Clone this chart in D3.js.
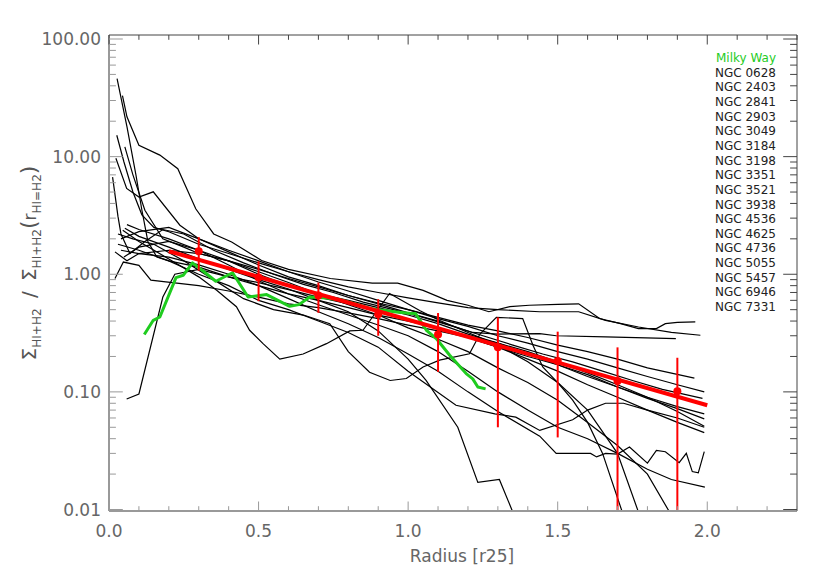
<!DOCTYPE html>
<html>
<head>
<meta charset="utf-8">
<script src="https://cdn.jsdelivr.net/npm/d3@7"></script>
<style>
  body { margin: 0; background: #fff; }
  svg { font-family: "DejaVu Sans", sans-serif; }
</style>
</head>
<body>
<script>
// galaxy names as in the legend
const galaxies = ["NGC 0628", "NGC 2403", "NGC 2841", "NGC 2903", "NGC 3049", "NGC 3184",
  "NGC 3198", "NGC 3351", "NGC 3521", "NGC 3938", "NGC 4536", "NGC 4625", "NGC 4736",
  "NGC 5055", "NGC 5457", "NGC 6946", "NGC 7331"];

// profiles: [radius r25, normalised surface density]
const ngc0628 = [[0.027,46],[0.06,18],[0.09,7],[0.11,3.5],[0.13,1.9],[0.16,1.4],[0.2,1.3],[0.3,1.15],[0.4,0.95],[0.5,0.8],[0.6,0.68],[0.7,0.6],[0.8,0.52],[0.9,0.45],[1.0,0.4],[1.1,0.35],[1.2,0.3],[1.3,0.26],[1.4,0.22],[1.5,0.18],[1.6,0.145],[1.7,0.115],[1.8,0.09],[1.9,0.068],[1.99,0.051]];
const ngc2403 = [[0.045,33],[0.06,21.8],[0.10,12.5],[0.17,10.3],[0.23,7.9],[0.29,3.6],[0.35,2.2],[0.41,1.88],[0.51,1.31],[0.6,1.1],[0.74,0.92],[0.88,0.84],[0.965,0.84],[1.05,0.73],[1.13,0.6],[1.2,0.545],[1.27,0.48],[1.34,0.53],[1.405,0.545],[1.5,0.555],[1.57,0.56],[1.64,0.42],[1.71,0.38],[1.77,0.345],[1.83,0.345],[1.86,0.38],[1.9,0.39],[1.96,0.393]];
const ngc2841 = [[0.026,15.2],[0.05,9],[0.08,5],[0.11,3.2],[0.15,2.5],[0.2,2.3],[0.3,1.8],[0.4,1.5],[0.5,1.25],[0.6,1.05],[0.7,0.9],[0.8,0.78],[0.9,0.7],[1.0,0.63],[1.1,0.57],[1.2,0.52],[1.3,0.5],[1.44,0.48],[1.57,0.48],[1.66,0.406],[1.77,0.356],[1.88,0.32],[1.977,0.303]];
const ngc2903 = [[0.023,9.7],[0.059,5.36],[0.10,4.54],[0.148,5.02],[0.237,2.61],[0.3,2.0],[0.4,1.55],[0.5,1.2],[0.6,0.95],[0.7,0.8],[0.8,0.66],[0.9,0.56],[1.0,0.47],[1.1,0.4],[1.215,0.32],[1.3,0.31],[1.44,0.313],[1.495,0.30],[1.66,0.293],[1.895,0.284]];
const ngc3049 = [[0.053,12.1],[0.08,7],[0.12,3.5],[0.18,2.0],[0.25,1.7],[0.3,1.5],[0.4,1.3],[0.5,1.1],[0.6,0.92],[0.7,0.78],[0.8,0.66],[0.9,0.57],[1.0,0.5],[1.1,0.43],[1.2,0.37],[1.3,0.33],[1.4,0.29],[1.5,0.25],[1.6,0.22],[1.7,0.19],[1.8,0.16],[1.957,0.131]];
const ngc3184 = [[0.012,6.7],[0.03,3.1],[0.04,2.2],[0.07,1.5],[0.12,1.9],[0.18,2.4],[0.25,2.2],[0.35,1.6],[0.45,1.25],[0.55,1.0],[0.65,0.82],[0.75,0.7],[0.85,0.58],[0.95,0.5],[1.05,0.43],[1.15,0.36],[1.25,0.3],[1.35,0.25],[1.45,0.21],[1.55,0.18],[1.65,0.15],[1.75,0.125],[1.85,0.105],[1.984,0.088]];
const ngc3198 = [[0.02,0.92],[0.048,1.27],[0.1,1.19],[0.14,0.89],[0.19,0.86],[0.3,0.8],[0.4,0.72],[0.5,0.64],[0.6,0.56],[0.7,0.52],[0.8,0.47],[0.9,0.42],[1.0,0.37],[1.1,0.33],[1.2,0.29],[1.3,0.24],[1.4,0.2],[1.5,0.17],[1.6,0.14],[1.7,0.11],[1.8,0.088],[1.9,0.072],[1.99,0.059]];
const ngc3351 = [[0.059,0.087],[0.1,0.096],[0.18,0.64],[0.22,1.0],[0.3,1.1],[0.4,0.95],[0.5,0.85],[0.6,0.74],[0.7,0.64],[0.8,0.56],[0.9,0.48],[1.0,0.41],[1.1,0.35],[1.2,0.29],[1.3,0.24],[1.4,0.19],[1.5,0.15],[1.6,0.115],[1.7,0.09],[1.8,0.07],[1.9,0.055],[1.99,0.045]];
const ngc3521 = [[0.046,2.37],[0.1,1.9],[0.2,1.35],[0.3,0.95],[0.36,0.73],[0.426,0.53],[0.47,0.334],[0.515,0.257],[0.571,0.19],[0.649,0.21],[0.727,0.257],[0.805,0.33],[0.849,0.334],[0.938,0.686],[1.04,0.49],[1.1,0.41],[1.2,0.32],[1.3,0.25],[1.4,0.18],[1.5,0.12],[1.6,0.07],[1.7,0.03],[1.77,0.0095]];
const ngc3938 = [[0.03,2.2],[0.08,2.0],[0.15,1.8],[0.25,1.3],[0.35,0.9],[0.45,0.62],[0.55,0.5],[0.65,0.45],[0.738,0.38],[0.8,0.22],[0.871,0.147],[0.94,0.125],[0.994,0.13],[1.05,0.163],[1.105,0.186],[1.205,0.211],[1.24,0.31],[1.295,0.43],[1.383,0.42],[1.417,0.25],[1.45,0.163],[1.5,0.12],[1.55,0.085],[1.6,0.055],[1.65,0.03],[1.716,0.0095]];
const ngc4536 = [[0.053,2.46],[0.1,2.1],[0.2,1.7],[0.3,1.35],[0.4,1.1],[0.5,0.9],[0.6,0.75],[0.7,0.6],[0.8,0.48],[0.9,0.33],[1.0,0.19],[1.06,0.125],[1.166,0.05],[1.233,0.017],[1.305,0.018],[1.35,0.0095]];
const ngc4625 = [[0.03,1.8],[0.1,1.6],[0.2,1.3],[0.3,1.0],[0.4,0.8],[0.5,0.6],[0.6,0.5],[0.7,0.4],[0.8,0.32],[0.9,0.24],[1.0,0.15],[1.16,0.077],[1.29,0.065],[1.36,0.061],[1.44,0.047],[1.55,0.058],[1.6,0.07],[1.66,0.08],[1.72,0.08],[1.8,0.07],[1.9,0.06],[1.99,0.05]];
const ngc4736 = [[0.04,1.6],[0.1,1.5],[0.2,1.4],[0.3,1.2],[0.4,1.0],[0.5,0.8],[0.6,0.62],[0.7,0.48],[0.8,0.38],[0.9,0.29],[1.0,0.21],[1.1,0.15],[1.2,0.1],[1.3,0.068],[1.44,0.042],[1.495,0.030],[1.55,0.030],[1.61,0.030],[1.63,0.028],[1.66,0.030],[1.70,0.0296],[1.74,0.034],[1.80,0.0248],[1.83,0.0318],[1.86,0.031],[1.906,0.025],[1.93,0.030],[1.95,0.021],[1.97,0.0205],[1.99,0.031]];
const ngc5055 = [[0.06,2.64],[0.1,2.4],[0.2,2.0],[0.3,1.6],[0.4,1.2],[0.5,0.88],[0.6,0.68],[0.7,0.55],[0.8,0.45],[0.9,0.37],[1.0,0.3],[1.1,0.22],[1.2,0.15],[1.3,0.1],[1.4,0.07],[1.5,0.05],[1.6,0.04],[1.7,0.03],[1.8,0.022],[1.88,0.018],[1.992,0.0155]];
const ngc5457 = [[0.02,1.55],[0.06,1.3],[0.1,1.5],[0.2,1.6],[0.3,1.5],[0.4,1.3],[0.5,1.05],[0.6,0.85],[0.7,0.68],[0.8,0.55],[0.9,0.45],[1.0,0.35],[1.1,0.28],[1.2,0.22],[1.3,0.16],[1.4,0.12],[1.5,0.085],[1.6,0.055],[1.7,0.035],[1.8,0.02],[1.874,0.0095]];
const ngc6946 = [[0.04,2.0],[0.1,2.3],[0.2,2.5],[0.3,2.0],[0.4,1.6],[0.5,1.3],[0.6,1.05],[0.7,0.86],[0.8,0.72],[0.9,0.6],[1.0,0.5],[1.1,0.42],[1.2,0.36],[1.3,0.3],[1.4,0.26],[1.5,0.22],[1.6,0.19],[1.7,0.16],[1.8,0.135],[1.9,0.115],[1.99,0.1]];
const ngc7331 = [[0.05,1.4],[0.1,1.7],[0.2,1.9],[0.3,1.6],[0.4,1.3],[0.5,1.0],[0.6,0.8],[0.7,0.68],[0.8,0.6],[0.9,0.52],[1.0,0.45],[1.1,0.38],[1.2,0.31],[1.3,0.26],[1.4,0.21],[1.5,0.17],[1.6,0.135],[1.7,0.11],[1.8,0.09],[1.9,0.075],[1.99,0.065]];
const profiles = [ngc0628, ngc2403, ngc2841, ngc2903, ngc3049, ngc3184, ngc3198, ngc3351,
  ngc3521, ngc3938, ngc4536, ngc4625, ngc4736, ngc5055, ngc5457, ngc6946, ngc7331];

// Milky Way
const milkyWayR = [0.118,0.148,0.170,0.224,0.248,0.279,0.304,0.357,0.413,0.465,0.527,0.604,0.635,0.671,0.727,0.78,0.821,0.871,0.961,1.011,1.025,1.061,1.094,1.139,1.194,1.216,1.233,1.259];
const milkyWayS = [0.307,0.406,0.433,0.937,0.98,1.25,1.12,0.872,1.03,0.641,0.672,0.534,0.552,0.641,0.629,0.60,0.563,0.511,0.478,0.463,0.463,0.334,0.284,0.205,0.143,0.129,0.110,0.106];

// binned mean and scatter
const binR = [0.3, 0.5, 0.7, 0.9, 1.1, 1.3, 1.5, 1.7, 1.9];
const binMean = [1.57, 0.94, 0.66, 0.457, 0.308, 0.24, 0.183, 0.124, 0.101];
const binSigma = [0.5, 0.35, 0.19, 0.157, 0.16, 0.19, 0.142, 0.115, 0.094];

// exponential fit end points
const fitR = [0.2, 2.0];
const fitS = [1.57, 0.077];

const xTicks = [0, 0.5, 1.0, 1.5, 2.0];
const yTicks = [0.01, 0.1, 1, 10, 100];

const width = 830, height = 581;
const frame = { left: 109, right: 797, top: 35, bottom: 511 };

const x = d3.scaleLinear().domain([0, 2.3]).range([frame.left, frame.right]);
const y = d3.scaleLog().domain([0.01, 100]).range([509.5, 39]);

const svg = d3.select("body").append("svg")
    .attr("width", width).attr("height", height);

svg.append("clipPath").attr("id", "plotclip")
  .append("rect")
    .attr("x", frame.left).attr("y", frame.top)
    .attr("width", frame.right - frame.left).attr("height", frame.bottom - frame.top);

const plot = svg.append("g").attr("clip-path", "url(#plotclip)");

const line = d3.line().x(d => x(d[0])).y(d => y(d[1]));

// galaxy profiles
plot.selectAll(".profile")
  .data(profiles)
  .enter()
  .append("path")
    .attr("class", "profile")
    .attr("fill", "none")
    .attr("stroke", "#000")
    .attr("stroke-width", 1.2)
    .attr("d", line);

// Milky Way
plot.append("path")
    .attr("fill", "none")
    .attr("stroke", "#1fcc1f")
    .attr("stroke-width", 3)
    .attr("stroke-linejoin", "round")
    .attr("d", line(milkyWayR.map((r, i) => [r, milkyWayS[i]])));

// fit line
plot.append("path")
    .attr("fill", "none")
    .attr("stroke", "#ff0000")
    .attr("stroke-width", 4)
    .attr("d", line(fitR.map((r, i) => [r, fitS[i]])));

// error bars and means
const bins = binR.map((r, i) => ({ r: r, m: binMean[i], s: binSigma[i] }));
plot.selectAll(".err")
  .data(bins)
  .enter()
  .append("line")
    .attr("class", "err")
    .attr("x1", d => x(d.r)).attr("x2", d => x(d.r))
    .attr("y1", d => y(d.m + d.s))
    .attr("y2", d => y(Math.max(d.m - d.s, 1e-4)))
    .attr("stroke", "#ff0000")
    .attr("stroke-width", 2);
plot.selectAll(".mean")
  .data(bins)
  .enter()
  .append("circle")
    .attr("class", "mean")
    .attr("cx", d => x(d.r)).attr("cy", d => y(d.m))
    .attr("r", 4)
    .attr("fill", "#ff0000");

// frame
const axisGrey = "#999";
svg.append("line").attr("x1", frame.left).attr("x2", frame.right).attr("y1", frame.bottom).attr("y2", frame.bottom)
    .attr("stroke", axisGrey).attr("stroke-width", 2);
svg.append("line").attr("x1", frame.left).attr("x2", frame.left).attr("y1", frame.top).attr("y2", frame.bottom)
    .attr("stroke", axisGrey).attr("stroke-width", 2);
svg.append("line").attr("x1", frame.left).attr("x2", frame.right).attr("y1", frame.top).attr("y2", frame.top)
    .attr("stroke", "#444").attr("stroke-width", 1);
svg.append("line").attr("x1", frame.right).attr("x2", frame.right).attr("y1", frame.top).attr("y2", frame.bottom)
    .attr("stroke", "#444").attr("stroke-width", 1);

// x ticks (major every 0.5, minor every 0.1) bottom and top
const xMinor = d3.range(0, 23.5).map(i => i / 10);
const isMajorX = v => Math.abs(v * 2 - Math.round(v * 2)) < 1e-6;
const xt = svg.append("g");
xMinor.forEach(v => {
  const len = isMajorX(v) ? 9.5 : 4.8;
  xt.append("line").attr("x1", x(v)).attr("x2", x(v)).attr("y1", frame.bottom).attr("y2", frame.bottom - len)
    .attr("stroke", axisGrey).attr("stroke-width", 1);
  xt.append("line").attr("x1", x(v)).attr("x2", x(v)).attr("y1", frame.top).attr("y2", frame.top + len)
    .attr("stroke", "#444").attr("stroke-width", 1);
});

// y ticks (major each decade, minor 2..9)
const yMinor = [];
[-2, -1, 0, 1].forEach(e => { for (let k = 1; k <= 9; k++) yMinor.push(k * Math.pow(10, e)); });
yMinor.push(100);
const yt = svg.append("g");
yMinor.forEach(v => {
  const major = yTicks.some(t => Math.abs(t - v) / t < 1e-6);
  const len = major ? 13.8 : 6.9;
  yt.append("line").attr("x1", frame.left).attr("x2", frame.left + len).attr("y1", y(v)).attr("y2", y(v))
    .attr("stroke", axisGrey).attr("stroke-width", 1);
  yt.append("line").attr("x1", frame.right).attr("x2", frame.right - len).attr("y1", y(v)).attr("y2", y(v))
    .attr("stroke", "#444").attr("stroke-width", 1);
});

// tick labels
svg.selectAll(".xlab")
  .data(xTicks)
  .enter()
  .append("text")
    .attr("class", "xlab")
    .attr("x", d => x(d)).attr("y", 537)
    .attr("text-anchor", "middle")
    .attr("font-size", 17)
    .attr("fill", "#666")
    .text(d3.format(".1f"));
svg.selectAll(".ylab")
  .data(yTicks)
  .enter()
  .append("text")
    .attr("class", "ylab")
    .attr("x", 101).attr("y", d => y(d) + 6)
    .attr("text-anchor", "end")
    .attr("font-size", 17)
    .attr("fill", "#666")
    .text(d3.format(".2f"));

// axis titles
svg.append("text")
    .attr("x", (frame.left + frame.right) / 2 + 9).attr("y", 562)
    .attr("text-anchor", "middle")
    .attr("font-size", 17)
    .attr("fill", "#666")
    .text("Radius [r25]");

const ylab = svg.append("text")
    .attr("transform", "translate(36,263) rotate(-90)")
    .attr("text-anchor", "middle")
    .attr("font-size", 20)
    .attr("fill", "#555");
ylab.append("tspan").text("Σ");
ylab.append("tspan").attr("font-size", 12).attr("dy", 5).text("HI+H2");
ylab.append("tspan").attr("dy", -5).text("\u2009 / \u2009Σ");
ylab.append("tspan").attr("font-size", 12).attr("dy", 5).text("HI+H2");
ylab.append("tspan").attr("dy", -5).attr("font-size", 22).text("(");
ylab.append("tspan").attr("font-size", 17).text("r");
ylab.append("tspan").attr("font-size", 12).attr("dy", 5).text("HI=H2");
ylab.append("tspan").attr("dy", -5).attr("font-size", 22).text(")");

// legend
const legend = svg.append("g").attr("font-size", 12).attr("text-anchor", "end");
legend.append("text").attr("x", 776).attr("y", 62).attr("fill", "#1fcc1f").text("Milky Way");
legend.selectAll(".leg")
  .data(galaxies)
  .enter()
  .append("text")
    .attr("class", "leg")
    .attr("x", 776)
    .attr("y", (d, i) => 62 + (i + 1) * 14.65)
    .attr("fill", "#222")
    .text(d => d);
</script>
</body>
</html>
